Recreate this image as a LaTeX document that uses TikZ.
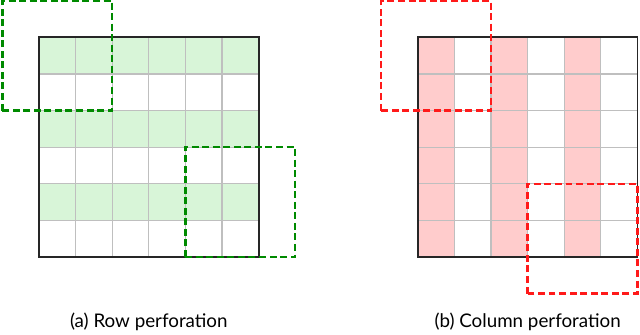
\documentclass[tikz,border=0pt]{standalone}
\usepackage{fontspec}
\setmainfont{Lato}
\usetikzlibrary{positioning}
\definecolor{rowfill}{HTML}{D8F5D8}
\definecolor{colfill}{HTML}{FFCCCC}
\definecolor{wingreen}{HTML}{008A00}
\definecolor{winred}{HTML}{FF1A1A}
\tikzset{
  gridline/.style={draw=black!25,line width=0.9pt},
  border/.style={draw=black!85,line width=1.4pt},
  window/.style={line width=1.9pt,dash pattern=on 5.4pt off 2.8pt},
  caption/.style={anchor=base,font=\fontsize{14.6}{17}\selectfont}
}
\begin{document}
\begin{tikzpicture}
\useasboundingbox (-1.066,-2.13) rectangle (16.42,7.02);
% row perforation
\foreach \y in {1,3,5}
  \fill[rowfill] (0,\y) rectangle (6,\y+1);
\draw[gridline] (0,0) grid (6,6);
\draw[border] (0,0) rectangle (6,6);
\draw[window,wingreen] (-1,4) rectangle (2,7);
\draw[window,wingreen] (4,0) rectangle (7,3);
\node[caption] (capa) at (3,-1.94) {(a) Row perforation};
% column perforation
\begin{scope}[xshift=10.35cm]
\foreach \x in {0,2,4}
  \fill[colfill] (\x,0) rectangle (\x+1,6);
\draw[gridline] (0,0) grid (6,6);
\draw[border] (0,0) rectangle (6,6);
\draw[window,winred] (-1,4) rectangle (2,7);
\draw[window,winred] (3,-1) rectangle (6,2);
\node[caption] (capb) at (3,-1.94) {(b) Column perforation};
\end{scope}
\end{tikzpicture}
\end{document}
